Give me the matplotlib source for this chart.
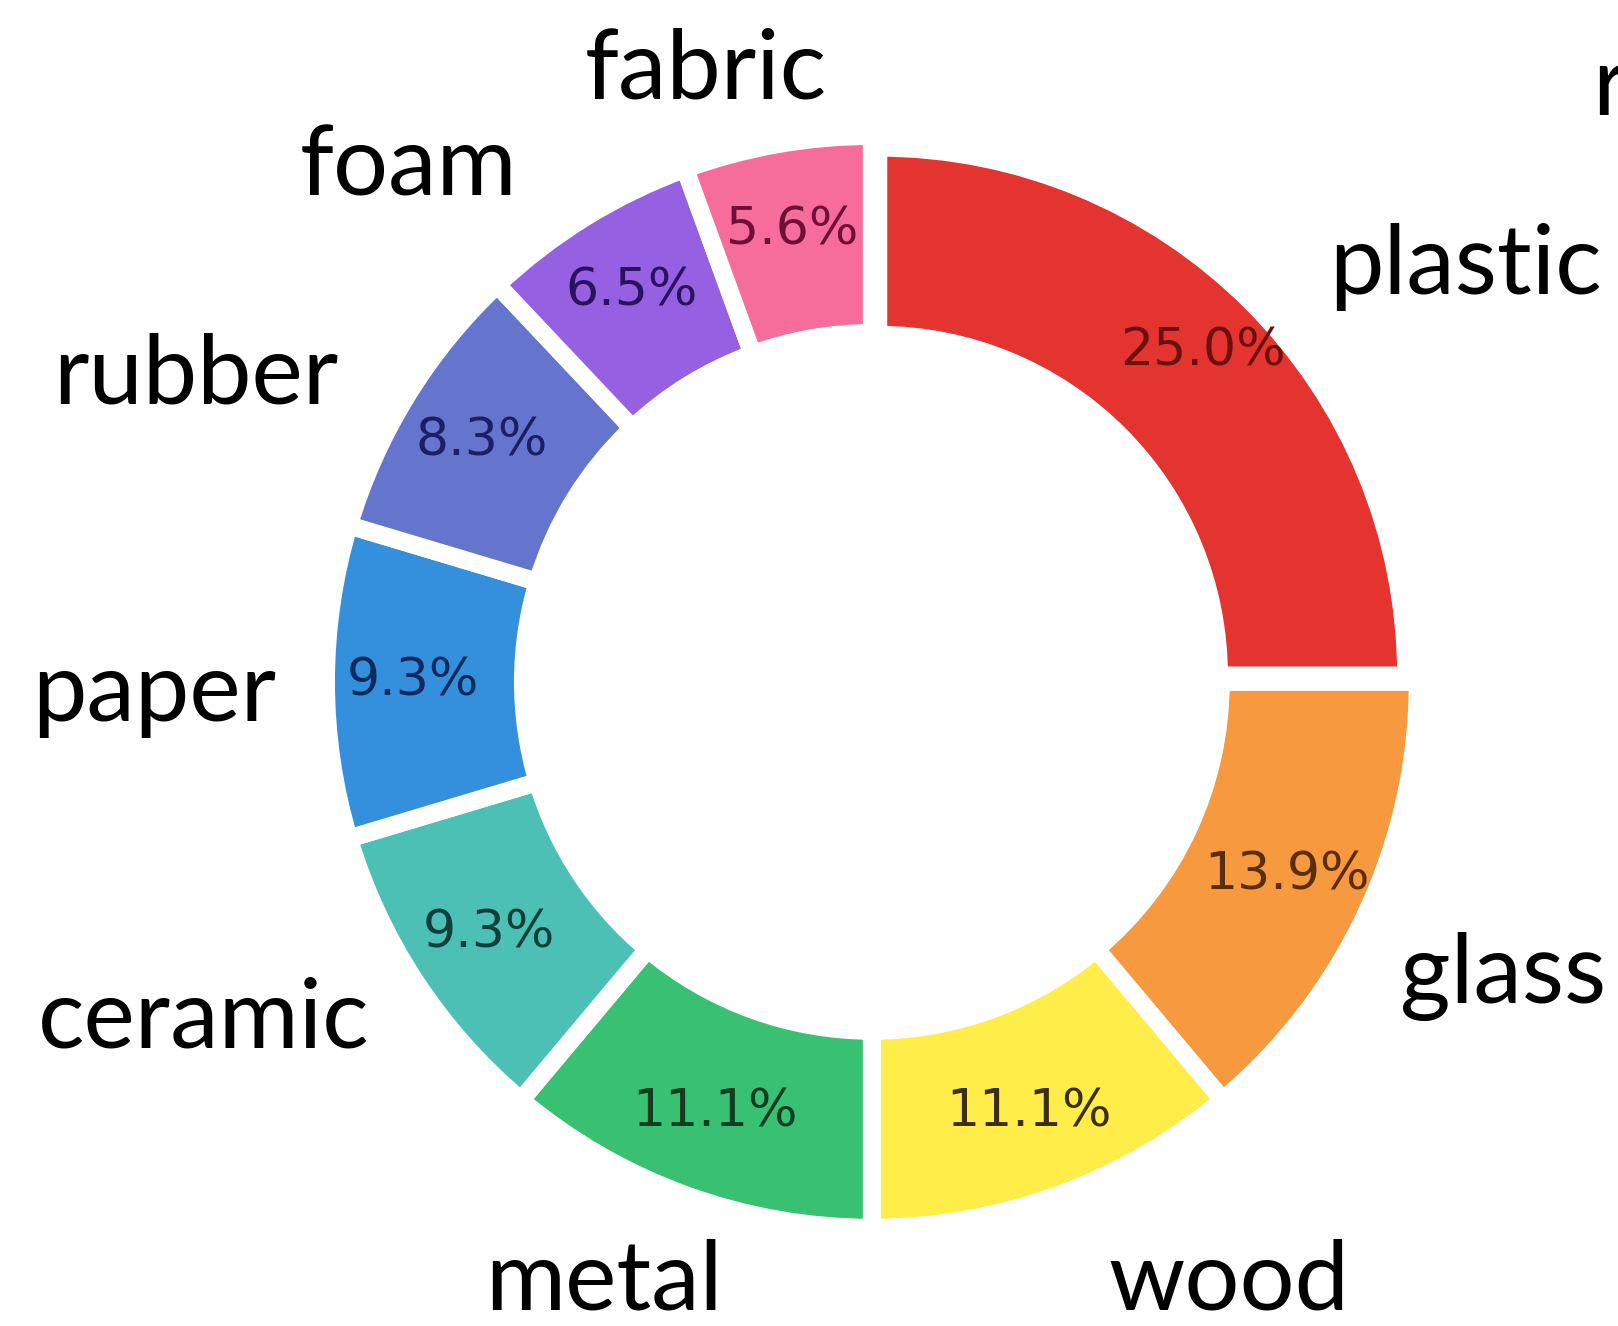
import matplotlib
matplotlib.use("Agg")
import matplotlib.pyplot as plt

# material counts (pie shows share of 108 items)
materials = ["plastic", "glass", "wood", "metal", "ceramic", "paper", "rubber", "foam", "fabric"]
counts = [27, 15, 12, 12, 10, 10, 9, 7, 6]
colors = ["#E3342F", "#F6993F", "#FFED4A", "#38C172", "#4DC0B5",
          "#3490DC", "#6574CD", "#9561E2", "#F66D9B"]
pct_colors = ["#6B0F0F", "#5A2E0A", "#3D3008", "#0D3D22", "#0E3F3A",
              "#0F2A5C", "#1B1F66", "#2A125E", "#6E0F35"]
explode = [0.0165, 0, 0, 0, 0, 0, 0, 0, 0]

# hand nudges for the outer labels, in pixels (right, down)
label_nudge = [(15, 28), (-31, 34), (26, 21), (62, 21), (13, 0),
               (21, 12), (-8, 18), (-31, 12), (62, -3)]
PX_PER_UNIT = 546.0

fig = plt.figure(figsize=(16.18, 13.26), dpi=100)
# axes placed so the ring centre sits where it does in the original crop
ax = fig.add_axes([-0.001, -0.173, 1.0797, 1.3175])

wedges, texts, autotexts = ax.pie(
    counts, labels=materials, colors=colors, explode=explode,
    startangle=90, counterclock=False, radius=1.0,
    autopct="%1.1f%%", pctdistance=0.84, labeldistance=1.13,
    wedgeprops=dict(width=0.361, edgecolor="white", linewidth=13),
    textprops=dict(fontsize=37.5),
)

# plastic wedge is drawn a touch smaller than the rest
wedges[0].set_radius(0.967)
wedges[0].set_width(0.343)

for t, (dx, dy) in zip(texts, label_nudge):
    t.set_fontfamily("Lato")
    t.set_fontsize(70)
    x, y = t.get_position()
    t.set_position((x + dx / PX_PER_UNIT, y - dy / PX_PER_UNIT))
for t, c in zip(autotexts, pct_colors):
    t.set_color(c)

ax.set_xlim(-1.6, 1.6)
ax.set_ylim(-1.6, 1.6)
ax.axis("off")

# leftover text cut by the right border of the original
fig.text(1592 / 1618, 1 - 115 / 1326, "r", fontsize=70, family="Lato",
         ha="left", va="baseline")

fig.savefig("out.png", dpi=100)
